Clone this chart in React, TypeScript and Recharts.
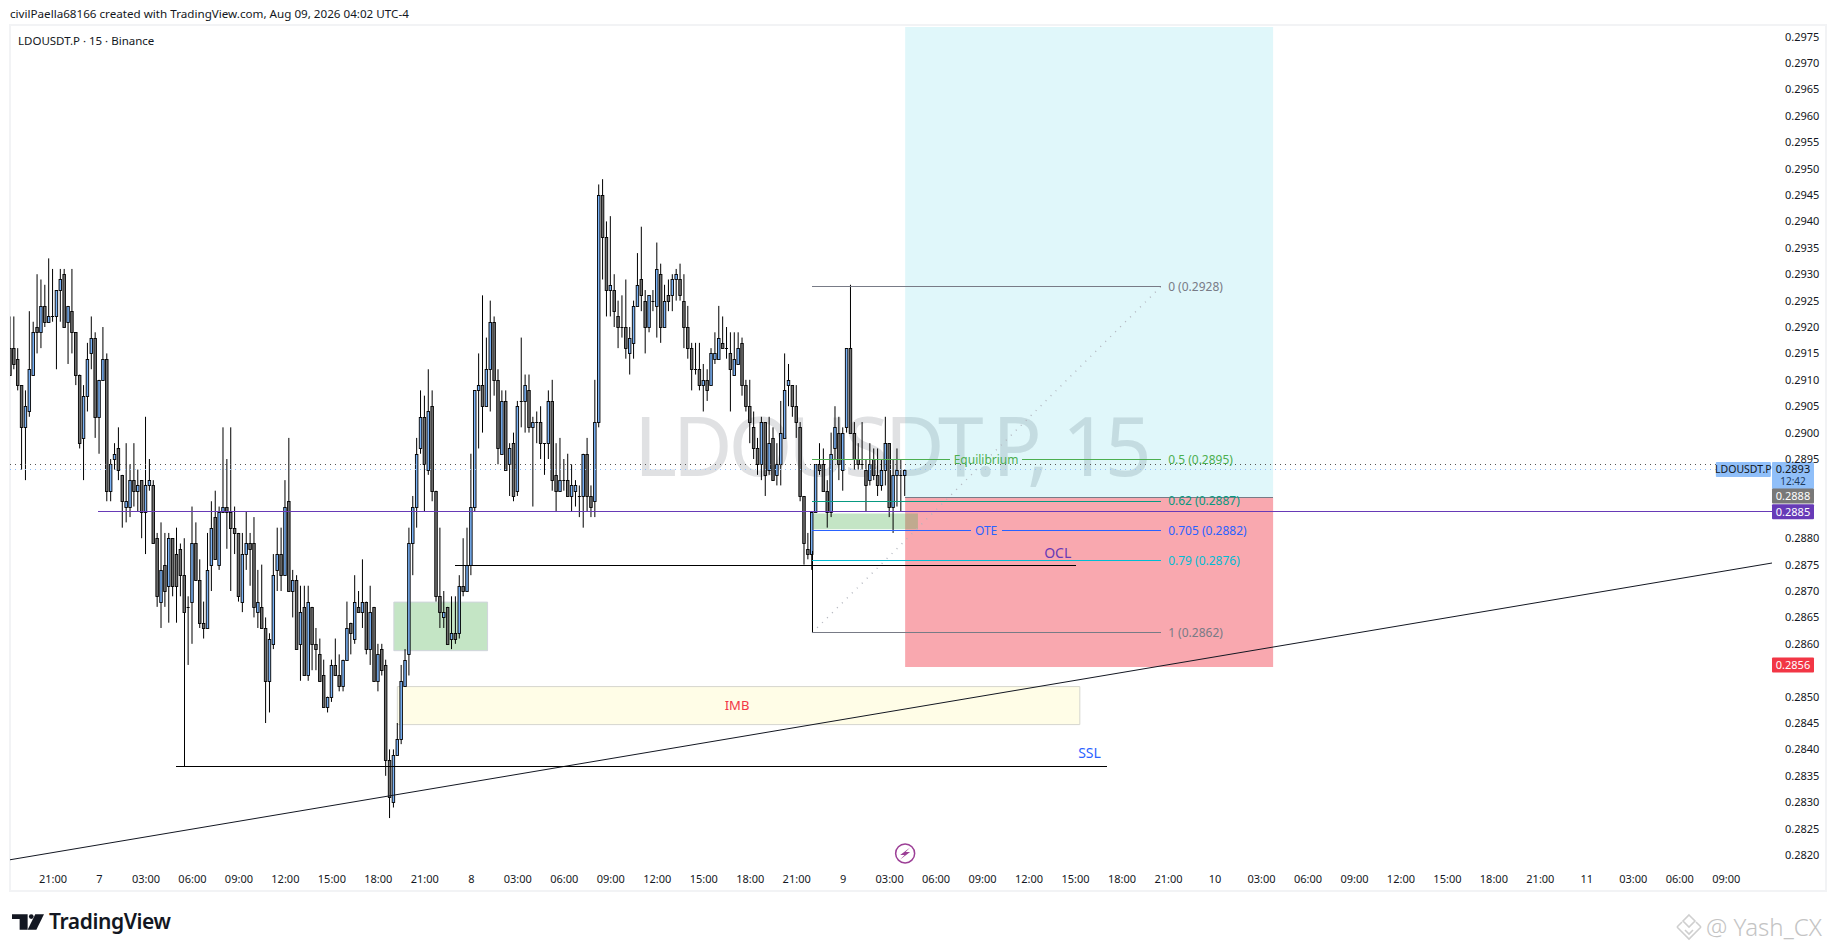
import { Bar, ComposedChart, ReferenceArea, ReferenceDot, ReferenceLine, XAxis, YAxis } from "recharts";

// 15 minute candles, bar 0 = Aug 6 21:00. Values are in ticks above 0.2800 (1 tick = 0.0001)
const FIRST_BAR = -11;
const opens = [
  116,116,114,109,101,104,111,120,119,124,121,
  122,122,127,130,121,123,119,111,99,107,
  115,118,103,110,114,89,95,97,92,86,
  86,91,89,91,85,90,90,80,68,75,
  71,80,77,78,73,67,68,79,72,64,
  63,75,84,75,85,86,85,82,81,68,
  77,79,79,66,67,63,53,60,74,77,
  73,87,70,72,60,67,54,67,60,58,
  54,48,50,56,54,52,57,64,61,67,
  66,68,59,67,53,59,56,38,30,39,
  42,52,58,79,86,97,103,93,105,89,
  69,65,67,61,62,62,71,70,75,86,
  108,109,105,112,121,110,96,106,94,98,
  89,106,106,108,101,102,102,98,98,106,
  92,89,91,91,88,89,88,88,96,88,
  87,102,145,137,127,127,122,120,120,115,
  117,124,129,125,120,125,124,130,120,126,
  126,129,129,125,120,116,112,112,109,110,
  109,114,114,117,116,115,111,113,117,109,
  105,101,97,94,102,93,99,92,94,99,
  109,109,105,101,88,78,77,85,94,94,
  89,85,97,100,93,101,116,100,95,94,
  93,91,95,92,90,93,98,86,92,92,92,
];
const closes = [
  111,113,109,101,105,112,119,119,124,121,122,
  122,127,129,120,124,119,111,98,107,114,
  118,103,110,114,89,94,96,93,87,87,
  91,89,90,85,90,91,79,69,74,70,
  80,71,71,73,66,67,79,72,64,63,
  74,82,76,85,86,85,82,81,69,77,
  79,78,67,68,63,53,61,73,77,73,
  86,70,72,59,66,54,68,60,59,53,
  48,50,56,54,52,57,63,62,68,66,
  68,59,66,53,58,55,38,31,39,42,
  53,57,79,86,96,103,94,104,89,69,
  66,66,60,62,61,71,70,75,86,108,
  109,105,112,121,110,97,106,93,97,88,
  105,106,109,101,102,102,98,98,106,91,
  89,91,91,88,90,90,88,96,88,86,
  102,145,137,127,128,123,120,120,116,118,
  124,128,126,120,126,125,131,120,125,125,
  129,130,126,120,116,112,112,109,110,108,
  115,115,118,116,116,112,114,116,109,105,
  102,97,94,102,92,98,91,94,100,108,
  110,105,102,88,79,77,85,94,93,89,
  85,96,101,94,100,116,100,95,94,94,
  90,94,92,90,93,98,86,92,93,92,93,
];
const highs = [
  122,122,116,109,108,123,121,130,129,128,133,
  131,127,131,131,124,131,119,111,109,117,
  122,119,110,120,115,95,98,101,92,98,
  94,98,93,91,103,95,91,81,83,81,
  81,80,82,79,80,69,86,83,76,68,
  81,87,89,86,101,95,101,86,81,81,
  85,81,84,74,75,65,62,77,82,82,
  91,99,74,73,71,71,71,67,63,61,
  57,50,57,61,58,57,68,64,73,70,
  76,68,71,67,60,60,57,40,40,45,
  56,59,82,88,99,108,107,112,108,89,
  82,70,67,69,69,73,80,82,96,108,
  115,126,118,125,122,112,108,108,98,100,
  106,118,111,111,103,104,105,98,108,110,
  98,99,95,96,94,91,90,96,99,90,
  110,147,148,140,141,130,125,126,129,120,
  125,134,139,127,126,127,136,132,128,129,
  130,131,132,130,124,117,117,117,113,112,
  116,119,124,122,120,119,119,119,118,110,
  110,104,99,103,102,103,101,98,106,115,
  113,109,109,102,88,81,85,94,98,97,
  91,100,105,103,101,116,128,102,98,102,
  95,98,97,97,95,103,98,95,97,95,93,
];
const lows = [
  111,112,108,93,91,103,111,115,116,120,121,
  121,112,121,120,113,115,109,97,91,104,
  112,99,96,110,87,87,93,91,82,83,
  84,86,85,80,77,89,79,67,63,67,
  64,69,64,69,66,56,60,72,63,61,
  63,70,76,74,85,78,70,77,68,66,
  74,71,65,63,63,45,47,59,70,70,
  73,70,65,59,53,54,53,55,55,53,
  48,47,49,54,51,51,57,58,60,66,
  63,58,56,53,51,54,35,27,29,39,
  41,52,54,73,82,96,85,92,87,68,
  63,63,60,59,60,61,69,70,73,85,
  97,100,105,104,107,94,96,93,88,87,
  88,101,100,100,86,98,95,92,95,89,
  85,89,89,88,85,86,84,82,85,84,
  84,101,129,122,122,120,116,118,114,111,
  114,124,123,115,119,123,118,117,120,123,
  123,125,125,116,114,108,111,108,104,106,
  109,113,114,116,114,104,111,113,107,104,
  98,95,92,91,88,92,91,90,90,99,
  105,103,99,87,75,76,74,85,92,89,
  82,84,95,91,89,100,100,93,93,93,
  85,90,91,88,89,90,84,81,86,85,88,
];

const timeLabels = [
  "21:00","7","03:00","06:00","09:00","12:00","15:00","18:00",
  "21:00","8","03:00","06:00","09:00","12:00","15:00","18:00",
  "21:00","9","03:00","06:00","09:00","12:00","15:00","18:00",
  "21:00","10","03:00","06:00","09:00","12:00","15:00","18:00",
  "21:00","11","03:00","06:00","09:00",
];
const BARS_PER_LABEL = 12;
const timeTicks = timeLabels.map((_, i) => i * BARS_PER_LABEL);

// 0.2890, 0.2885 and 0.2855 sit under the price tags
const priceTicks = [
  0.282,0.2825,0.283,0.2835,0.284,0.2845,0.285,0.286,0.2865,0.287,0.2875,0.288,
  0.2895,0.29,0.2905,0.291,0.2915,0.292,0.2925,0.293,0.2935,0.294,0.2945,0.295,0.2955,
  0.296,0.2965,0.297,0.2975,
];

const fibLabels = ["0 (0.2928)", "0.5 (0.2895)", "0.62 (0.2887)", "0.705 (0.2882)", "0.79 (0.2876)", "1 (0.2862)"];
const fibPrices = [0.29277, 0.28949, 0.2887, 0.28814, 0.28758, 0.28621];
const FIB_COLORS = ["#787b86", "#4caf50", "#089981", "#2962ff", "#00bcd4", "#787b86"];

const X_DOMAIN = [-11.1, 443.8];
const Y_DOMAIN = [0.281792, 0.297682];
const FONT = "'Noto Sans', sans-serif";
const TAG_BAR = 429.3;

const candles = opens.map((_, i) => {
  const toPrice = (t: number) => 0.28 + t / 10000;
  return {
    bar: FIRST_BAR + i,
    open: toPrice(opens[i]),
    close: toPrice(closes[i]),
    high: toPrice(highs[i]),
    low: toPrice(lows[i]),
    range: [toPrice(lows[i]), toPrice(highs[i])],
  };
});

function Candle(props: any) {
  const { x, y, width, height, payload } = props;
  const perPrice = height / (payload.high - payload.low);
  const up = payload.close >= payload.open;
  const c = x + width / 2;
  const bodyTop = Math.round(y + (payload.high - Math.max(payload.open, payload.close)) * perPrice);
  const bodyBottom = Math.round(y + (payload.high - Math.min(payload.open, payload.close)) * perPrice);
  const bodyHeight = bodyBottom - bodyTop;
  return (
    <g>
      <rect x={c - 0.5} y={y} width={1} height={height} fill="#000" />
      {bodyHeight === 0 ? (
        <rect x={c - 1.5} y={bodyTop} width={3} height={1} fill="#000" />
      ) : (
        <rect
          x={c - 1.25}
          y={bodyTop + 0.5}
          width={2.5}
          height={bodyHeight}
          fill={up ? "#7ab2f6" : "#707070"}
          stroke="#000"
          strokeWidth={0.9}
        />
      )}
    </g>
  );
}

function TextAt(value: string, x: number, y: number, color: string, anchor = "middle", size = 12) {
  return (
    <ReferenceDot
      key={value + x}
      x={x}
      y={y}
      r={0}
      ifOverflow="visible"
      shape={(p: any) => (
        <text x={p.cx} y={p.cy} dy="0.35em" textAnchor={anchor} fontSize={size} fontFamily={FONT} fill={color}>
          {value}
        </text>
      )}
    />
  );
}

function Segment(x1: number, y1: number, x2: number, y2: number, color: string, width = 1, dash?: string) {
  return (
    <ReferenceLine
      key={`${x1}-${y1}-${x2}-${y2}`}
      segment={[{ x: x1, y: y1 }, { x: x2, y: y2 }]}
      stroke={color}
      strokeWidth={width}
      strokeDasharray={dash}
      shapeRendering={x1 === x2 || y1 === y2 ? "crispEdges" : undefined}
      ifOverflow="hidden"
    />
  );
}

function PriceTag(price: number, text: string, bg: string, color: string, note?: string) {
  const h = note ? 27 : 15;
  return (
    <ReferenceDot
      key={text}
      x={X_DOMAIN[1]}
      y={price}
      r={0}
      ifOverflow="visible"
      shape={(p: any) => (
        <g fontFamily={FONT} fontSize={11}>
          <rect x={p.cx} y={p.cy - 7.5} width={42} height={h} rx={1} fill={bg} />
          <text x={p.cx + 21} y={p.cy} dy="0.35em" textAnchor="middle" fill={color}>{text}</text>
          {note && <text x={p.cx + 21} y={p.cy + 12} dy="0.35em" textAnchor="middle" fill="#1d3a5c" fontSize={10}>{note}</text>}
        </g>
      )}
    />
  );
}

export default function App() {
  return (
    <div style={{ position: "absolute", left: 0, top: 0, width: 1835, height: 951, background: "#fff", overflow: "hidden", fontFamily: FONT }}>
      <div style={{ position: "absolute", left: 10, top: 6, fontSize: 11.65, color: "#131722", whiteSpace: "nowrap" }}>
        civilPaella68166 created with TradingView.com, Aug 09, 2026 04:02 UTC-4
      </div>
      <div style={{ position: "absolute", left: 9, top: 24, width: 1814, height: 864, border: "2px solid #f2f3f5" }} />
      <div style={{ position: "absolute", left: 18, top: 33, fontSize: 11.5, color: "#131722", whiteSpace: "nowrap" }}>
        LDOUSDT.P · 15 · Binance
      </div>
      {/* symbol watermark, under the candles */}
      <div style={{ position: "absolute", left: 634, top: 389, fontSize: 82, lineHeight: "110px", letterSpacing: -4.2, color: "#e0e1e3", whiteSpace: "nowrap" }}>
        LDOUSDT.P, 15
      </div>

      <div style={{ position: "absolute", left: 0, top: 0 }}>
        <ComposedChart
          width={1835}
          height={951}
          data={candles}
          margin={{ top: 27, right: 10, bottom: 60, left: 10 }}
        >
          <XAxis
            dataKey="bar"
            type="number"
            scale="linear"
            domain={X_DOMAIN}
            allowDataOverflow
            ticks={timeTicks}
            interval={0}
            height={25}
            axisLine={false}
            tickLine={false}
            tickMargin={3}
            tick={{ fontSize: 11, fill: "#131722", fontFamily: FONT }}
            tickFormatter={(v: number) => timeLabels[v / BARS_PER_LABEL]}
          />
          <YAxis
            orientation="right"
            type="number"
            domain={Y_DOMAIN}
            allowDataOverflow
            ticks={priceTicks}
            interval={0}
            width={53}
            axisLine={false}
            tickLine={false}
            tickMargin={7}
            tick={{ fontSize: 11, fill: "#131722", fontFamily: FONT }}
            tickFormatter={(v: number) => v.toFixed(4)}
          />

          {/* long position */}
          <ReferenceArea x1={220} x2={315} y1={0.28877} y2={Y_DOMAIN[1]} fill="#00bcd4" fillOpacity={0.12} stroke="none" ifOverflow="hidden" />
          <ReferenceArea x1={220} x2={315} y1={0.28556} y2={0.28877} fill="#f23645" fillOpacity={0.43} stroke="none" ifOverflow="hidden" />
          {Segment(220, 0.28877, 315, 0.28877, "#787b86")}

          {/* zones */}
          <ReferenceArea x1={88} x2={112.2} y1={0.28587} y2={0.28679} fill="#4caf50" fillOpacity={0.33} stroke="#d1d4dc" />
          <ReferenceArea x1={196.3} x2={223.3} y1={0.28817} y2={0.28847} fill="#4caf50" fillOpacity={0.33} stroke="none" />
          <ReferenceArea x1={88.9} x2={265.1} y1={0.28447} y2={0.28519} fill="#fff9c4" fillOpacity={0.4} stroke="#d6d6cf" />

          <Bar dataKey="range" barSize={3} isAnimationActive={false} shape={Candle} />

          {/* last price lines */}
          {Segment(X_DOMAIN[0], 0.2894, TAG_BAR, 0.2894, "#555", 1, "1 4")}
          {Segment(X_DOMAIN[0], 0.2893, TAG_BAR, 0.2893, "#90bff9", 1, "1 4")}
          {Segment(11.7, 0.2885, X_DOMAIN[1], 0.2885, "#673ab7")}

          {/* trend line and liquidity lines */}
          {Segment(X_DOMAIN[0], 0.28191, X_DOMAIN[1], 0.28753, "#131722")}
          {Segment(31.8, 0.28368, 272.1, 0.28368, "#000")}
          {Segment(33.9, 0.28658, 33.9, 0.28368, "#000")}
          {Segment(103.8, 0.28749, 264, 0.28749, "#000")}

          {/* fib retracement */}
          {Segment(196, 0.28621, 286.1, 0.29277, "#b2b5be", 1.4, "1 6")}
          {Segment(196, 0.28775, 196, 0.28621, "#000")}
          {Segment(195.9, fibPrices[0], 286.1, fibPrices[0], FIB_COLORS[0])}
          {Segment(195.9, fibPrices[1], 231.7, fibPrices[1], FIB_COLORS[1])}
          {Segment(250.1, fibPrices[1], 286.1, fibPrices[1], FIB_COLORS[1])}
          {Segment(195.9, fibPrices[2], 286.1, fibPrices[2], FIB_COLORS[2])}
          {Segment(195.9, fibPrices[3], 237, fibPrices[3], FIB_COLORS[3])}
          {Segment(244.9, fibPrices[3], 286.1, fibPrices[3], FIB_COLORS[3])}
          {Segment(195.9, fibPrices[4], 286.1, fibPrices[4], FIB_COLORS[4])}
          {Segment(195.9, fibPrices[5], 286.1, fibPrices[5], FIB_COLORS[5])}
          {fibLabels.map((label, i) => TextAt(label, 287.9, fibPrices[i], FIB_COLORS[i], "start"))}
          {TextAt("Equilibrium", 240.9, fibPrices[1], "#4caf50")}
          {TextAt("OTE", 240.9, fibPrices[3], "#2962ff")}

          {TextAt("OCL", 259.4, 0.28771, "#673ab7", "middle", 14)}
          {TextAt("SSL", 267.6, 0.28393, "#2962ff", "middle", 14)}
          {TextAt("IMB", 176.6, 0.28483, "#f23645", "middle", 13)}

          {/* flash marker on the time scale */}
          <ReferenceDot
            x={220}
            y={0.28203}
            r={0}
            ifOverflow="visible"
            shape={(p: any) => (
              <g>
                <circle cx={p.cx} cy={p.cy} r={9.5} fill="#fff" stroke="#9c3f96" strokeWidth={1.5} />
                <path
                  d={`M${p.cx + 5} ${p.cy - 6} L${p.cx - 5} ${p.cy + 1.5} L${p.cx - 0.5} ${p.cy + 1.5} L${p.cx - 5} ${p.cy + 6} L${p.cx + 5} ${p.cy - 1.5} L${p.cx + 0.5} ${p.cy - 1.5} Z`}
                  fill="#9c3f96"
                />
              </g>
            )}
          />

          {/* price scale tags */}
          {PriceTag(0.2893, "0.2893", "#90bff9", "#131722", "12:42")}
          {PriceTag(0.2888, "0.2888", "#787878", "#fff")}
          {PriceTag(0.2885, "0.2885", "#673ab7", "#fff")}
          {PriceTag(0.2856, "0.2856", "#f23645", "#fff")}
          <ReferenceDot
            x={TAG_BAR}
            y={0.2893}
            r={0}
            ifOverflow="visible"
            shape={(p: any) => (
              <g fontFamily={FONT} fontSize={10.5}>
                <rect x={p.cx} y={p.cy - 7.5} width={55} height={15} rx={1} fill="#90bff9" />
                <text x={p.cx + 27.5} y={p.cy} dy="0.35em" textAnchor="middle" fill="#131722">LDOUSDT.P</text>
              </g>
            )}
          />
        </ComposedChart>
      </div>

      {/* footer */}
      <svg style={{ position: "absolute", left: 12, top: 914 }} width={32} height={16} viewBox="0 0 88 43">
        <path d="M0 0H43V43H21V13H0Z" fill="#131722" />
        <circle cx="53" cy="6.5" r="6.5" fill="#131722" />
        <path d="M64 0H88L67 43H43Z" fill="#131722" />
      </svg>
      <div style={{ position: "absolute", left: 49, top: 906, fontSize: 21, lineHeight: "30px", fontWeight: 600, color: "#131722", letterSpacing: -0.4 }}>
        TradingView
      </div>
      <svg style={{ position: "absolute", left: 1675, top: 913 }} width={28} height={28} viewBox="0 0 28 28" fill="none" stroke="#cfcfcf" strokeWidth={1.6}>
        <path d="M14 2L20 8L14 14L8 8Z M2 14L7 9M26 14L21 9 M2 14L14 26L26 14 M10 17L14 21L18 17" />
      </svg>
      <div style={{ position: "absolute", left: 1706, top: 911, fontSize: 24, lineHeight: "32px", fontWeight: 300, color: "#c4c4c4", whiteSpace: "nowrap" }}>
        @ Yash_CX
      </div>
    </div>
  );
}
